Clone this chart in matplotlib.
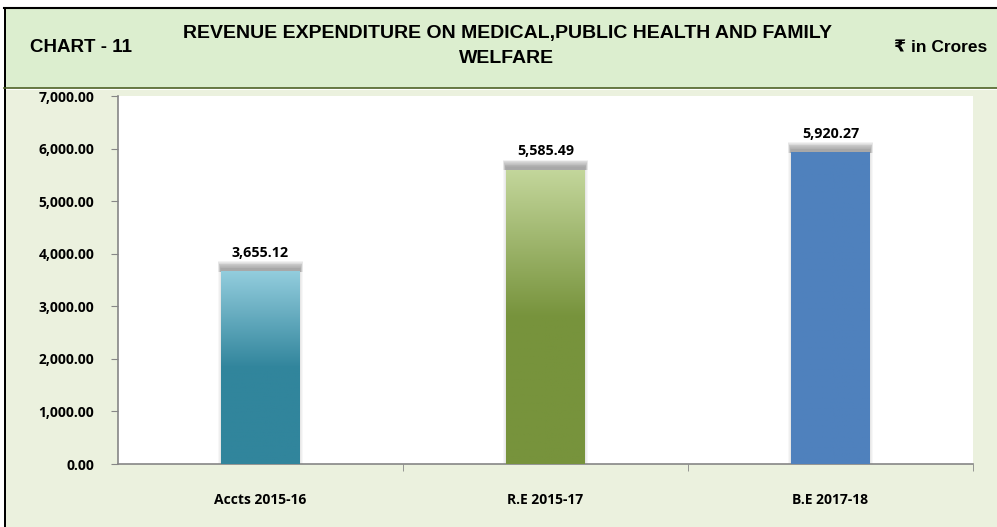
import matplotlib
matplotlib.use("Agg")
import matplotlib.pyplot as plt
from matplotlib import font_manager
from matplotlib.patches import Rectangle
from matplotlib.colors import LinearSegmentedColormap
import numpy as np

categories = ["Accts 2015-16", "R.E 2015-17", "B.E 2017-18"]
values = [3655.12, 5585.49, 5920.27]
top_colors = ["#93CDDD", "#C3D69B", "#4F81BD"]
base_colors = ["#31859C", "#77933C", "#4F81BD"]

names = sorted(set(f.name for f in font_manager.fontManager.ttflist))
narrow = "Liberation Sans Narrow" if "Liberation Sans Narrow" in names else "Liberation Sans"
body = "Open Sans"

fig = plt.figure(figsize=(9.97, 5.27), dpi=100)
fig.patch.set_facecolor("white")

# chart background panel
fig.add_artist(Rectangle((4/997, 0), 1, 1 - 90/527, transform=fig.transFigure,
                         facecolor="#EBF1DE", edgecolor="none", zorder=0))
fig.add_artist(Rectangle((4/997, 0), 1.5/997, 1 - 8/527, transform=fig.transFigure,
                         facecolor="black", edgecolor="none", zorder=3))
# header box
fig.add_artist(Rectangle((4/997, 1 - 88/527), 1, 80/527, transform=fig.transFigure,
                         facecolor="#DCEECF", edgecolor="none", zorder=1))
fig.add_artist(plt.Line2D([4/997, 1], [1 - 8/527, 1 - 8/527], transform=fig.transFigure,
                          color="black", lw=1.5, zorder=3))
fig.add_artist(plt.Line2D([4/997, 1], [1 - 88/527, 1 - 88/527], transform=fig.transFigure,
                          color="#4F6228", lw=1.2, zorder=3))

fig.text(30/997, 1 - 48/527, "CHART - 11", family=narrow, weight="bold", fontsize=13.5,
         va="center", ha="left")
fig.text(507/997, 1 - 46/527, "REVENUE EXPENDITURE ON MEDICAL,PUBLIC HEALTH AND FAMILY\nWELFARE",
         family=narrow, weight="bold", fontsize=14, va="center", ha="center", linespacing=1.6)
fig.text(987/997, 1 - 48/527, "\u20b9 in Crores", family=[narrow, "DejaVu Sans"], weight="bold",
         fontsize=12.5, va="center", ha="right")

ax = fig.add_axes([118/997, 1 - 464/527, (973 - 118)/997, (464 - 96)/527])
ax.set_facecolor("white")

x = np.arange(len(categories))
width = 0.277
bars = ax.bar(x, values, width=width, color="none", zorder=3)

ax.set_xlim(-0.5, 2.5)
ax.set_ylim(0, 7000)

for b, v, tc, bc in zip(bars, values, top_colors, base_colors):
    x0 = b.get_x()
    w = b.get_width()
    # faint side shadow
    for i in range(3):
        pad = 0.003 * (i + 1)
        ax.add_patch(Rectangle((x0 - pad, 0), w + 2 * pad, v, facecolor="black",
                               alpha=0.03, edgecolor="none", zorder=2))
    # top shadow band, blurred, darkest right above the bar
    for i in range(10):
        pad = 0.010 - 0.001 * i
        h = 200 - 15 * i
        ax.add_patch(Rectangle((x0 - pad, v), w + 2 * pad, h, facecolor="#808080",
                               alpha=0.1, edgecolor="none", zorder=2))
    cmap = LinearSegmentedColormap.from_list("g", [bc, bc, tc])
    grad = np.linspace(0, 1, 256).reshape(-1, 1)
    ax.imshow(grad, extent=(x0, x0 + w, 0, v), origin="lower", cmap=cmap, aspect="auto", zorder=3)
    ax.text(x0 + w / 2, v + 230, f"{v:,.2f}", ha="center", va="bottom",
            family=body, weight="bold", fontsize=10.3, zorder=4)

ax.set_xlim(-0.5, 2.5)
ax.set_ylim(0, 7000)
ax.set_yticks(np.arange(0, 7001, 1000))
ax.set_yticklabels([f"{t:,.2f}" for t in np.arange(0, 7001, 1000)], family=body,
                   weight="bold", fontsize=10)
ax.set_xticks(x)
ax.set_xticklabels(categories, family=body, weight="bold", fontsize=10)
ax.tick_params(axis="x", length=0, pad=21)
ax.set_xticks([0.5, 1.5, 2.5], minor=True)
ax.tick_params(axis="x", which="minor", length=5, color="#868686", direction="out")
ax.tick_params(axis="y", length=5, color="#868686", pad=12)
for s in ["top", "right"]:
    ax.spines[s].set_visible(False)
ax.spines["left"].set_color("#868686")
ax.spines["bottom"].set_color("#868686")
ax.spines["left"].set_linewidth(1.2)
ax.spines["bottom"].set_linewidth(1.2)

fig.savefig("out.png", dpi=100)
